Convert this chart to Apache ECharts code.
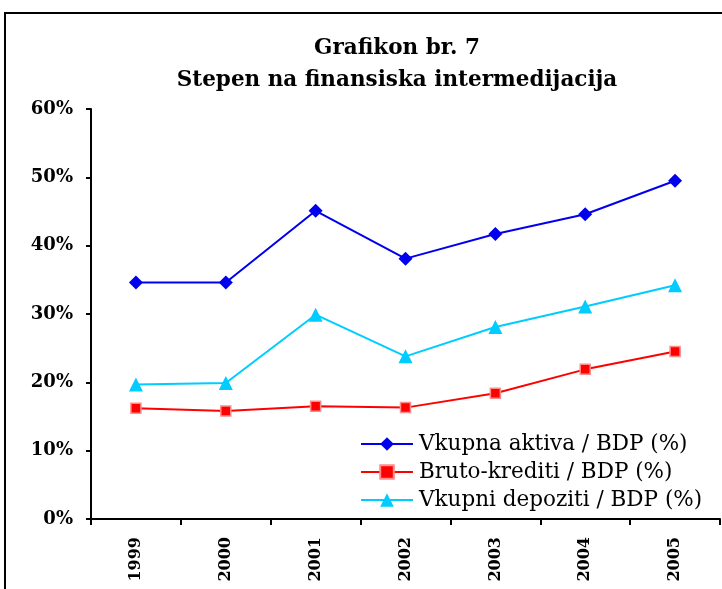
<!DOCTYPE html>
<html>
<head>
<meta charset="utf-8">
<script src="https://cdn.jsdelivr.net/npm/echarts@6/dist/echarts.min.js"></script>
<style>
html,body{margin:0;padding:0;background:#fff;}
#chart{width:722px;height:589px;}
</style>
</head>
<body>
<div id="chart"></div>
<script>
const titleLines = ['Grafikon br. 7', 'Stepen na finansiska intermedijacija'];
const years = ['1999', '2000', '2001', '2002', '2003', '2004', '2005'];
const seriesNames = ['Vkupna aktiva / BDP (%)', 'Bruto-krediti / BDP (%)', 'Vkupni depoziti / BDP (%)'];
const vkupnaAktiva = [34.6, 34.6, 45.1, 38.1, 41.7, 44.6, 49.5];
const brutoKrediti = [16.2, 15.8, 16.5, 16.3, 18.4, 21.9, 24.5];
const vkupniDepoziti = [19.7, 19.9, 29.9, 23.8, 28.1, 31.1, 34.2];

const serif = '"DejaVu Serif", "Liberation Serif", serif';
const chart = echarts.init(document.getElementById('chart'), null, {renderer: 'canvas'});

chart.setOption({
  animation: false,
  backgroundColor: '#ffffff',
  title: {
    text: titleLines.join('\n'),
    left: 397,
    textAlign: 'center',
    top: 32,
    padding: 0,
    textStyle: {fontFamily: serif, fontWeight: 'bold', fontSize: 21.5, lineHeight: 32, color: '#000'}
  },
  graphic: [{
    type: 'rect',
    shape: {x: 5, y: 13, width: 740, height: 600},
    style: {fill: 'none', stroke: '#000', lineWidth: 2},
    silent: true
  }],
  legend: {
    orient: 'vertical',
    left: 360,
    top: 433,
    padding: 0,
    itemWidth: 52,
    itemHeight: 17,
    itemGap: 6,
    data: seriesNames,
    textStyle: {fontFamily: serif, fontSize: 21.5, lineHeight: 21, color: '#000', padding: [0, 0, 0, 1]}
  },
  grid: {left: 91, right: 2, top: 109, bottom: 70, containLabel: false},
  xAxis: {
    type: 'category',
    data: years,
    boundaryGap: true,
    axisLine: {lineStyle: {color: '#000', width: 2}},
    axisTick: {show: true, length: 6, lineStyle: {color: '#000', width: 2}},
    axisLabel: {rotate: 90, margin: 18, color: '#000', fontFamily: serif, fontWeight: 'bold', fontSize: 16}
  },
  yAxis: {
    type: 'value',
    min: 0,
    max: 60,
    interval: 10,
    splitLine: {show: false},
    axisLine: {show: true, lineStyle: {color: '#000', width: 2}},
    axisTick: {show: true, length: 5, lineStyle: {color: '#000', width: 2}},
    axisLabel: {margin: 18, color: '#000', fontFamily: serif, fontWeight: 'bold', fontSize: 18, formatter: '{value}%'}
  },
  series: [
    {
      name: seriesNames[0], type: 'line', data: vkupnaAktiva,
      symbol: 'diamond', symbolSize: 14,
      lineStyle: {color: '#0000ee', width: 2},
      itemStyle: {color: '#0000ee'}
    },
    {
      name: seriesNames[1], type: 'line', data: brutoKrediti,
      symbol: 'rect', symbolSize: 10,
      lineStyle: {color: '#ff0000', width: 2},
      itemStyle: {color: '#ff0000', borderColor: '#ff8c8c', borderWidth: 1.5}
    },
    {
      name: seriesNames[2], type: 'line', data: vkupniDepoziti,
      symbol: 'triangle', symbolSize: 14,
      lineStyle: {color: '#00ccff', width: 2},
      itemStyle: {color: '#00ccff'}
    }
  ]
});
</script>
</body>
</html>
